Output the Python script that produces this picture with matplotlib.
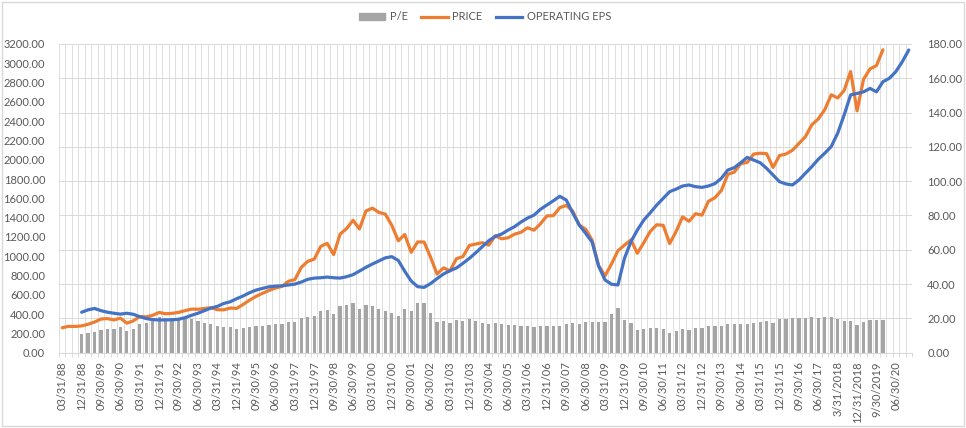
import numpy as np
import matplotlib.pyplot as plt
from matplotlib.patches import Rectangle
from matplotlib.lines import Line2D

plt.rcParams['font.family'] = ['Lato', 'DejaVu Sans']

# category labels: quarter ends 1988 Q1 .. 2020 Q4
short_days = ['03/31', '06/30', '09/30', '12/31']
long_days = ['3/31', '6/30', '9/30', '12/31']
quarters = []
for year in range(1988, 2021):
    for q in range(4):
        if year in (2018, 2019):
            quarters.append(f'{long_days[q]}/{year}')
        else:
            quarters.append(f'{short_days[q]}/{year % 100:02d}')

# S&P 500 price at quarter end (left axis), 1988 Q1 .. 2019 Q4
price = [
    258.89, 273.50, 271.91, 277.72,
    294.87, 317.98, 349.15, 353.40,
    339.94, 358.02, 306.05, 330.22,
    375.22, 371.16, 387.86, 417.09,
    403.69, 408.14, 417.80, 435.71,
    451.67, 450.53, 458.93, 466.45,
    445.77, 444.27, 462.69, 459.27,
    500.71, 544.75, 584.41, 615.93,
    645.50, 670.63, 687.33, 740.74,
    757.12, 885.14, 947.28, 970.43,
    1101.75, 1133.84, 1017.01, 1229.23,
    1286.37, 1372.71, 1282.71, 1469.25,
    1498.58, 1454.60, 1436.51, 1320.28,
    1160.33, 1224.42, 1040.94, 1148.08,
    1147.39, 989.82, 815.28, 879.82,
    848.18, 974.50, 995.97, 1111.92,
    1126.21, 1140.84, 1114.58, 1211.92,
    1180.59, 1191.33, 1228.81, 1248.29,
    1294.83, 1270.20, 1335.85, 1418.30,
    1420.86, 1503.35, 1526.75, 1468.36,
    1322.70, 1280.00, 1166.36, 903.25,
    797.87, 919.32, 1057.08, 1115.10,
    1169.43, 1030.71, 1141.20, 1257.64,
    1325.83, 1320.64, 1131.42, 1257.60,
    1408.47, 1362.16, 1440.67, 1426.19,
    1569.19, 1606.28, 1681.55, 1848.36,
    1872.34, 1960.23, 1972.29, 2058.90,
    2067.89, 2063.11, 1920.03, 2043.94,
    2059.74, 2098.86, 2168.27, 2238.83,
    2362.72, 2423.41, 2519.36, 2673.61,
    2640.87, 2718.37, 2913.98, 2506.85,
    2834.40, 2941.76, 2976.74, 3140.00,
]

# operating EPS (right axis), 1988 Q1 .. 2020 Q4
eps = [
    np.nan, np.nan, np.nan, 23.6,
    25.0, 25.8, 24.5, 23.6,
    23.0, 22.5, 23.0, 22.4,
    21.0, 19.9, 19.3, 19.1,
    19.1, 19.2, 19.5, 20.4,
    21.8, 23.0, 24.5, 26.0,
    27.0, 28.7, 29.7, 31.5,
    33.1, 35.0, 36.5, 37.5,
    38.4, 38.8, 39.0, 39.5,
    40.0, 41.2, 42.8, 43.5,
    43.7, 44.1, 43.7, 43.5,
    44.3, 45.5, 47.6, 49.8,
    51.7, 53.5, 55.3, 56.0,
    53.8, 47.5, 41.8, 38.5,
    38.1, 40.3, 43.2, 45.9,
    47.8, 49.4, 52.1, 55.0,
    58.3, 61.8, 65.3, 67.8,
    69.2, 71.5, 73.5, 76.2,
    78.5, 80.2, 83.6, 86.1,
    88.6, 91.2, 89.0, 81.5,
    74.5, 69.6, 64.5, 50.5,
    42.4, 39.9, 39.5, 55.0,
    64.7, 71.5, 77.4, 81.6,
    86.1, 90.0, 93.9, 95.4,
    97.2, 97.8, 96.8, 96.4,
    97.2, 98.6, 101.7, 106.5,
    107.9, 110.8, 113.9, 112.3,
    110.8, 107.5, 103.6, 99.7,
    98.4, 97.8, 100.7, 104.6,
    108.5, 112.8, 116.3, 120.2,
    128.0, 138.6, 150.3, 151.2,
    152.1, 154.1, 152.1, 158.0,
    160.0, 163.9, 169.7, 176.5,
]

# P/E ratio (right axis), 1988 Q1 .. 2019 Q4
pe = [
    np.nan, np.nan, np.nan, 11.0,
    11.2, 12.2, 13.3, 13.9,
    13.9, 15.2, 12.7, 13.8,
    16.7, 17.5, 20.4, 21.0,
    20.1, 20.1, 19.9, 19.8,
    19.5, 18.5, 17.2, 16.8,
    15.6, 15.0, 15.2, 14.0,
    14.5, 15.1, 15.5, 15.8,
    16.2, 16.6, 16.8, 17.9,
    17.8, 20.2, 21.0, 21.4,
    24.3, 24.9, 22.6, 27.2,
    27.8, 28.8, 25.5, 27.9,
    27.4, 25.5, 24.4, 23.0,
    21.4, 25.3, 24.3, 28.8,
    28.9, 23.2, 17.8, 18.5,
    17.4, 19.0, 18.5, 19.5,
    18.2, 17.6, 16.5, 17.3,
    16.5, 16.2, 16.1, 15.8,
    15.8, 15.2, 15.6, 15.7,
    15.6, 15.7, 16.7, 17.1,
    16.7, 17.9, 17.7, 17.9,
    17.7, 22.6, 26.2, 19.1,
    17.5, 13.2, 13.8, 14.6,
    14.6, 13.6, 11.7, 12.5,
    13.6, 13.2, 14.2, 14.6,
    15.6, 15.8, 15.8, 16.6,
    16.6, 16.9, 16.5, 17.5,
    17.8, 18.2, 17.6, 19.4,
    19.8, 20.2, 20.2, 20.0,
    20.6, 20.0, 20.6, 20.6,
    19.5, 18.5, 18.5, 16.2,
    17.9, 19.1, 19.1, 19.1,
]

grey_text = '#595959'
grid_col = '#D9D9D9'
c_pe, c_price, c_eps = '#A5A5A5', '#ED7D31', '#4472C4'

x_all = np.arange(len(quarters))
x_price = np.arange(len(price))

fig = plt.figure(figsize=(9.66, 4.28), dpi=100)
rect = [59 / 966, 1 - 352.7 / 428, (912 - 59) / 966, (352.7 - 44) / 428]

# base axes: P/E bars + grid, right-hand scale
ax = fig.add_axes(rect)
ax.bar(x_price, pe, width=0.5, color=c_pe, zorder=2)
ax.set_ylim(0, 180)
ax.set_yticks(np.arange(0, 181, 20))

# price on left-hand scale
axp = ax.twinx()
axp.plot(x_price, price, color=c_price, lw=2.3, solid_capstyle='round', solid_joinstyle='round')
axp.set_ylim(0, 3200)
axp.set_yticks(np.arange(0, 3201, 200))

# EPS on right-hand scale, drawn on top
axe = ax.twinx()
axe.plot(x_all, eps, color=c_eps, lw=2.3, solid_capstyle='round', solid_joinstyle='round')
axe.set_ylim(0, 180)
axe.set_yticks([])

# twinx moves the base ticks to the left, so place them afterwards
ax.yaxis.tick_right()
ax.yaxis.set_label_position('right')
axp.yaxis.tick_left()
axp.yaxis.set_label_position('left')

for a in (ax, axp, axe):
    a.set_xlim(-0.5, len(quarters) - 0.5)
    for s in a.spines.values():
        s.set_visible(False)

ax.spines['bottom'].set_visible(True)
ax.spines['bottom'].set_color(grid_col)

# category ticks and gridlines
ax.set_xticks(x_all[::3])
ax.set_xticklabels(quarters[::3], rotation=90)
ax.set_xticks(np.arange(-0.5, len(quarters)), minor=True)
ax.tick_params(axis='x', which='major', length=0, pad=6, labelsize=8, labelcolor=grey_text)
ax.tick_params(axis='x', which='minor', length=3, color=grid_col, width=0.6)
ax.grid(True, which='minor', axis='x', color=grid_col, lw=0.6, zorder=0)
ax.grid(True, which='major', axis='y', color=grid_col, lw=0.7, zorder=0)
ax.set_axisbelow(True)

ax.tick_params(axis='y', length=0, pad=11, labelsize=8, labelcolor=grey_text)
axp.tick_params(axis='y', length=0, pad=10, labelsize=8, labelcolor=grey_text)
ax.yaxis.set_major_formatter(lambda v, p: f'{v:.2f}')
axp.yaxis.set_major_formatter(lambda v, p: f'{v:.2f}')
for a in (axp, axe):
    a.tick_params(axis='x', which='both', length=0, labelbottom=False)

handles = [
    Rectangle((0, 0), 1, 1, color=c_pe),
    Line2D([], [], color=c_price, lw=2.3),
    Line2D([], [], color=c_eps, lw=2.3),
]
fig.legend(handles, ['P/E', 'PRICE', 'OPERATING EPS'], loc='center',
           bbox_to_anchor=(0.502, 1 - 17 / 428), ncol=3, frameon=False,
           fontsize=8, labelcolor=grey_text, handlelength=2.4,
           handleheight=0.5, columnspacing=1.2, handletextpad=0.4)

fig.patches.append(Rectangle((0.002, 0.004), 0.996, 0.992, transform=fig.transFigure,
                             fill=False, edgecolor=grid_col, lw=1))

fig.savefig('out.png', dpi=100)
